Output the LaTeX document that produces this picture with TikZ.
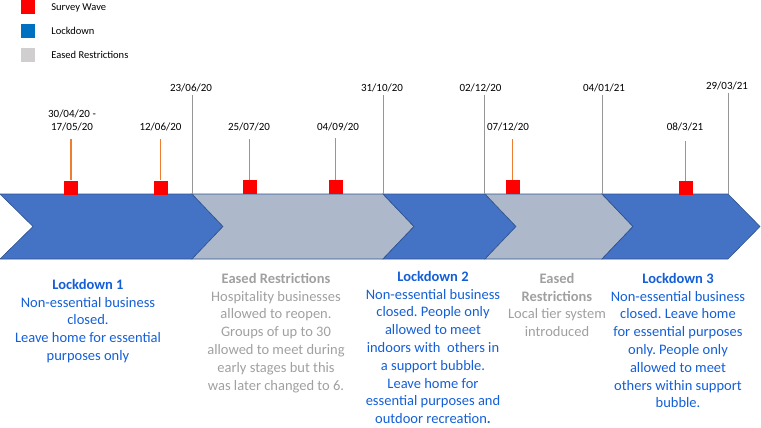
\documentclass[tikz,border=0pt]{standalone}
\usepackage{fontspec}
\setmainfont{Carlito}
\frenchspacing
\usetikzlibrary{positioning}
\definecolor{lockblue}{RGB}{68,114,196}
\definecolor{easegray}{RGB}{173,185,202}
\definecolor{edgeblue}{RGB}{47,82,143}
\definecolor{keyblue}{RGB}{0,112,192}
\definecolor{keygray}{RGB}{208,206,206}
\definecolor{waveorange}{RGB}{237,125,49}
\definecolor{textblue}{RGB}{20,95,215}
\definecolor{textgray}{RGB}{160,160,160}
\definecolor{dategray}{RGB}{150,150,150}

\begin{document}
\begin{tikzpicture}[x=1pt,y=-1pt,
    phase/.style={draw=edgeblue,line width=0.6pt,line join=miter},
    keybox/.style={minimum size=14pt,inner sep=0pt},
    keytext/.style={font=\fontsize{10.5}{12}\selectfont,inner sep=0pt,anchor=west},
    wave/.style={fill=red,minimum size=14pt,inner sep=0pt},
    datetext/.style={font=\fontsize{11}{12.5}\selectfont,align=center,inner sep=0pt},
    stem/.style={draw=waveorange,line width=1.2pt},
    dateline/.style={draw=dategray,line width=0.8pt},
    blurb/.style={font=\fontsize{14.5}{17.8}\selectfont,align=center,inner sep=0pt,anchor=north}]
    \useasboundingbox (0,0) rectangle (761,428);
    % key
    \node[keybox,fill=red] (k1) at (28,7.5) {};
    \node[keytext,right=16pt of k1] {Survey Wave};
    \node[keybox,fill=keyblue] (k2) at (28,31) {};
    \node[keytext,right=16pt of k2] {Lockdown};
    \node[keybox,fill=keygray] (k3) at (28,55) {};
    \node[keytext,right=16pt of k3] {Eased Restrictions};
    % phases
    \draw[phase,fill=lockblue] (0,194) -- (192,194) -- (223,226.5) -- (192,259) -- (0,259) -- (33,226.5) -- cycle;
    \draw[phase,fill=easegray] (192,194) -- (383,194) -- (414,226.5) -- (383,259) -- (192,259) -- (223,226.5) -- cycle;
    \draw[phase,fill=lockblue] (383,194) -- (485,194) -- (516,226.5) -- (485,259) -- (383,259) -- (414,226.5) -- cycle;
    \draw[phase,fill=easegray] (485,194) -- (602,194) -- (633,226.5) -- (602,259) -- (485,259) -- (516,226.5) -- cycle;
    \draw[phase,fill=lockblue] (602,194) -- (728,194) -- (760,226.5) -- (728,259) -- (602,259) -- (633,226.5) -- cycle;
    % dates of changes
    \node[datetext] (d1) at (191,88) {23/06/20};
    \node[datetext] (d2) at (382,88) {31/10/20};
    \node[datetext] (d3) at (480.5,88) {02/12/20};
    \node[datetext] (d4) at (604,88) {04/01/21};
    \node[datetext] (d5) at (727,86) {29/03/21};
    \coordinate (s1) at (192,95);
    \coordinate (s2) at (383,95);
    \coordinate (s3) at (484,95);
    \coordinate (s4) at (602,95);
    \coordinate (s5) at (728,93);
    \coordinate (e1) at (192,194);
    \coordinate (e2) at (383,194);
    \coordinate (e3) at (484,194);
    \coordinate (e4) at (602,194);
    \coordinate (e5) at (728,194);
    \draw[dateline] (s1) -- (e1);
    \draw[dateline] (s2) -- (e2);
    \draw[dateline] (s3) -- (e3);
    \draw[dateline] (s4) -- (e4);
    \draw[dateline] (s5) -- (e5);
    % survey waves
    \node[wave] (w1) at (71,187.5) {};
    \node[wave] (w2) at (160.5,187.5) {};
    \node[wave] (w3) at (249.5,187) {};
    \node[wave] (w4) at (335.5,187) {};
    \node[wave] (w5) at (512.5,187) {};
    \node[wave] (w6) at (685.5,188) {};
    \node[datetext] (l1) at (72,120.5) {30/04/20 -\\17/05/20};
    \node[datetext] (l2) at (160.5,127) {12/06/20};
    \node[datetext] (l3) at (249,127) {25/07/20};
    \node[datetext] (l4) at (338,127) {04/09/20};
    \node[datetext] (l5) at (508,127) {07/12/20};
    \node[datetext] (l6) at (685,127) {08/3/21};
    \coordinate (t1) at (71,139);
    \coordinate (t2) at (160.5,139);
    \coordinate (t3) at (249.5,139);
    \coordinate (t4) at (335.5,138);
    \coordinate (t5) at (512.5,139);
    \coordinate (t6) at (685.5,141);
    \draw[stem] (t1) -- (w1);
    \draw[stem] (t2) -- (w2);
    \draw[stem] (t3) -- (w3);
    \draw[stem] (t4) -- (w4);
    \draw[stem] (t5) -- (w5);
    \draw[stem] (t6) -- (w6);
    % descriptions
    \node[blurb,text=textblue] (b1) at (88,279) {\textbf{Lockdown 1}\\Non-essential business\\closed.\\Leave home for essential\\purposes only};
    \node[blurb,text=textgray] (b2) at (276,273) {\textbf{Eased Restrictions}\\Hospitality businesses\\allowed to reopen.\\Groups of up to 30\\allowed to meet during\\early stages but this\\was later changed to 6.};
    \node[blurb,text=textblue] (b3) at (433,271) {\textbf{Lockdown 2}\\Non-essential business\\closed. People only\\allowed to meet\\indoors with \ others in\\a support bubble.\\Leave home for\\essential purposes and\\outdoor recreation\textbf{.}};
    \node[blurb,text=textgray] (b4) at (557,273) {\textbf{Eased}\\\textbf{Restrictions}\\Local tier system\\introduced};
    \node[blurb,text=textblue] (b5) at (678,273) {\textbf{Lockdown 3}\\Non-essential business\\closed. Leave home\\for essential purposes\\only. People only\\allowed to meet\\others within support\\bubble.};
\end{tikzpicture}
\end{document}
